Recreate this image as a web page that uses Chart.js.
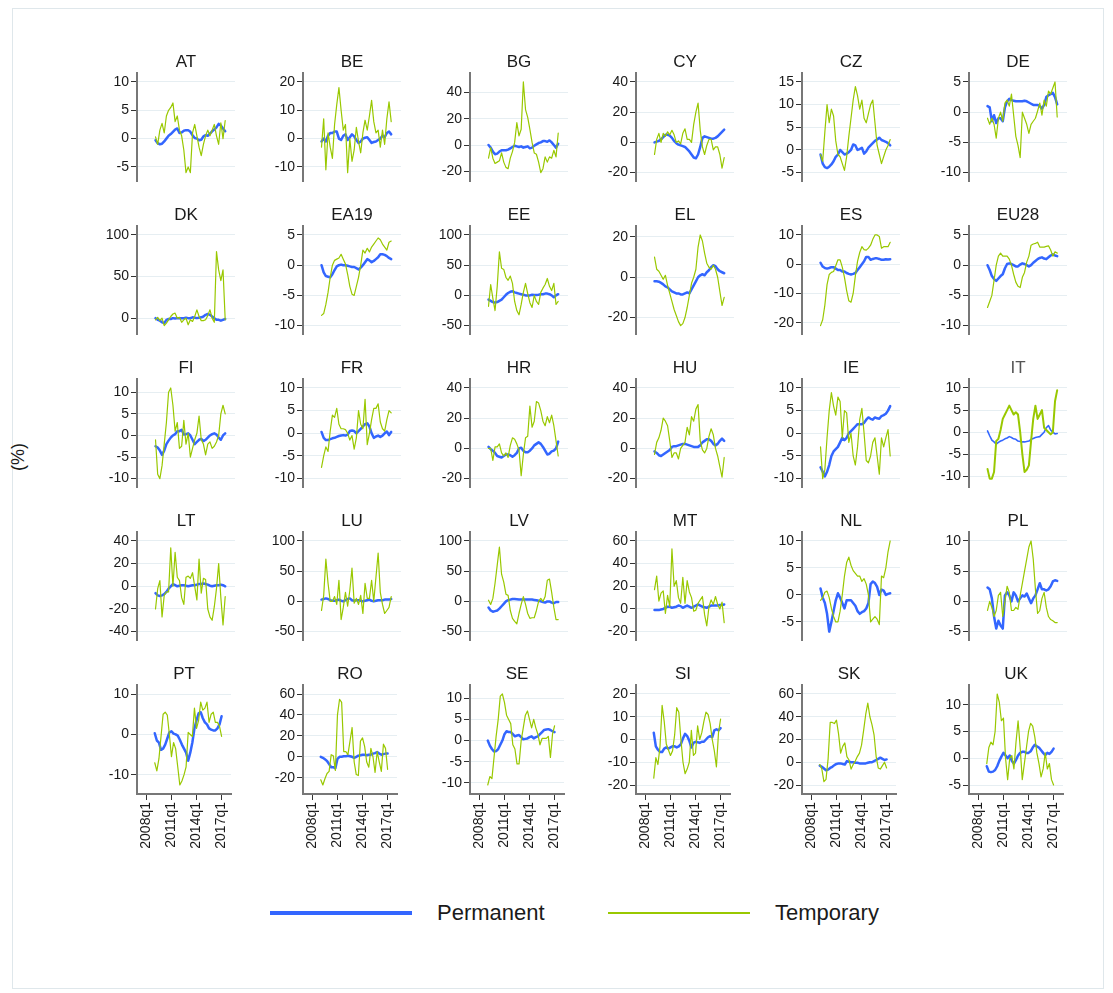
<!DOCTYPE html>
<html>
<head>
<meta charset="utf-8">
<script src="https://cdn.jsdelivr.net/npm/chart.js@4.4.1/dist/chart.umd.min.js"></script>
<style>
html, body { margin:0; padding:0; background:#fff; }
#page { position:relative; width:1113px; height:993px; overflow:hidden; font-family:'Liberation Sans', Arial, sans-serif; color:#1a1a1a; }
#frame { position:absolute; left:12px; top:8px; width:1092px; height:981px; border:1px solid #dfe7eb; box-sizing:border-box; }
#page canvas { position:absolute; }
#ylab { position:absolute; left:18px; top:457px; transform:translate(-50%,-50%) rotate(-90deg); font-size:18px; white-space:nowrap; }
.lg-line { position:absolute; }
.lg-text { position:absolute; font-size:22px; line-height:22px; }
</style>
</head>
<body>
<div id="page">
  <div id="frame"></div>
  <div id="ylab">(%)</div>
  <div class="lg-line" style="left:270px;top:911px;width:142px;height:4px;background:#3366ff"></div>
  <div class="lg-text" style="left:437px;top:902px">Permanent</div>
  <div class="lg-line" style="left:608px;top:912px;width:142px;height:1.5px;background:#99c800"></div>
  <div class="lg-text" style="left:775px;top:902px">Temporary</div>
</div>
<script>
// quarters 2009q1 .. 2017q1
const quarters = ['2009q1','2009q2','2009q3','2009q4','2010q1','2010q2','2010q3','2010q4',
  '2011q1','2011q2','2011q3','2011q4','2012q1','2012q2','2012q3','2012q4',
  '2013q1','2013q2','2013q3','2013q4','2014q1','2014q2','2014q3','2014q4',
  '2015q1','2015q2','2015q3','2015q4','2016q1','2016q2','2016q3','2016q4','2017q1'];
const xTickLabels = ['2008q1','2011q1','2014q1','2017q1'];

// Permanent (blue) / Temporary (green), % change
const permAT = [-0.3,-0.8,-1,-0.9,-0.5,0,0.5,0.8,1.2,1.6,1.8,1,1.1,1.4,1.5,1.5,1.2,0.6,0.1,0,-0.3,-0.2,0.4,0.6,0.5,0.9,1.3,1.6,2.0,2.6,2.3,1.8,1.3];
const tempAT = [0.3,-1,1.5,2.7,1.0,4,5,5.5,6.3,3,4,1.5,0.5,-2,-6,-5,-6,1,2.5,0.5,-1.5,-3,-1,0.5,1.5,0.5,1.5,2.5,0.5,-1,2.8,0,3.2];
const permBE = [-1,0,-1,1,2,2,2.5,2.5,0,-0.5,1,1.5,-0.5,0.5,1.5,0.8,-0.5,-1.5,-1,0,0.3,0.5,-0.5,-1.5,-1.2,-1,-0.5,0,1,0.5,2,2.5,1.5];
const tempBE = [-3,7,-11,2,-3,-7,5,12,18,10,3,5,-12,0,-8,-4,4,-1,-5,2,6.5,3,8,13.5,6,2,3,-3,3,-2,7,13,6];
const permBG = [0,-2,-5,-7,-6.5,-5,-4,-4,-4,-3.5,-2.5,-1.5,-0.5,-1,-1.5,-1,-2,-1.5,-1,-2.5,-2,-0.5,0.5,1.5,2,3,3,2.5,3.5,2,0,-2,1];
const tempBG = [-10,-2,-10,-14,-13,-12,-6,-13,-17,-18,-10,-5,2,17,7,12,48,27,21,12,2,-6,-7,-13,-21,-18,-9,-13,-9,-10,-4,-9,9];
const permCY = [0,0.5,1,2,3.5,5,5,4.5,3,1,-0.5,-1.5,-2,-2.5,-3,-4.5,-6,-8,-10,-10.5,-8,-3,3,4,3.5,3,2.5,2.5,3,4,5.5,7,8.5];
const tempCY = [-8,2,6,0,6,4,7,5,8,5,0,1,-1,6,9,2,2,0,12,20,26,8,-3,-8,-2,2,2,-5,-3,-3,-8,-17,-10];
const permCZ = [-1,-3,-3.8,-4,-3.7,-3.2,-2.5,-1.5,-1,0,-0.5,-1,-0.8,-0.5,0,1.2,1,0,0.2,0.5,-0.8,-0.3,0.5,1,1.5,2,2.3,2.7,2.2,2,1.8,1.5,1];
const tempCZ = [-1,-2.5,4,10,6,9,7.5,2,-1,-1.5,-3,-4.5,-1.5,3,7,11,14,12,9,11,7,6,8,10,11,6,1,-1,-3,-1.5,0,1,2.3];
const permDE = [1,0.8,-1.5,-0.5,-1.8,-1,-1,-1.5,0.8,1.8,2.2,2,1.9,1.8,1.8,1.8,1.8,1.9,1.8,1.6,1.4,1.2,1.2,1.2,1,0.6,1.2,2.5,2.8,3,3.2,2.5,1.3];
const tempDE = [-1,-2,-1,-2,-4.3,-1,0,-1.5,1.5,2,1,3,-0.5,-4,-5.5,-7.5,0,-1,-2,-3.5,-2,-1.5,-1,0.2,1.5,-0.5,2,1,3.5,3,4,5,-0.8];
const permDK = [0,-2,-3,-5,-6,-2,-1,-1,0,-0.5,0,0,0,0,0.5,0,0,1,0.5,0,0.5,1,2,4,5,4,2,0,-2,-2,-3,-2,-1];
const tempDK = [-2,1,-3,0,-9,-6,-2,2,5,6,0,1,-5,-2,0,-8,-2,-4,2,10,2,-3,-3,-2,3,10,0,-5,80,58,45,58,-2];
const permEA19 = [0,-1.2,-1.8,-1.9,-2,-1.5,-0.8,-0.2,0,0.1,0,0,-0.1,-0.2,-0.3,-0.3,-0.5,-0.7,-0.4,0,0.5,1,0.8,0.5,0.7,1,1.3,1.8,1.8,1.7,1.5,1.2,1];
const tempEA19 = [-8.3,-8,-6.5,-4.5,-2,0,0.8,1,1.2,1.8,1,0.2,-1.5,-3.5,-4.8,-5,-3.5,-2,0,2.5,2,2.8,2.2,3,3.5,4,4.5,4.2,3.5,3,2.5,3.8,4];
const permEE = [-7,-9,-11,-12,-11,-9,-7,-3,1,4,6,7,5,4,3,2,1,0,0,0,1,0.5,0.5,1,2,2,3,3,2,0,-3,0,2];
const tempEE = [-18,18,-5,-25,15,72,45,43,30,25,32,20,-10,-25,-32,-15,5,20,3,-12,-20,0,-10,-15,5,12,18,28,15,8,20,-15,-10];
const permEL = [-2,-2,-2.2,-2.8,-3.5,-4.5,-5,-6,-7,-7.5,-8,-8,-8.5,-8.5,-8,-7.5,-8,-6,-4,-2,0,1,1.5,1,2.5,3.5,5,6,5.5,4,3,2.5,2];
const tempEL = [10,4,3,1,-1,1,-4,-8,-12,-16,-19,-22,-24,-23,-20,-15,-9,-3,0,4,15,21,18,12,7,5,4,6,4,0,-7,-14,-10];
const permES = [0.5,-0.8,-1.3,-1.5,-1.3,-1,-1,-1.5,-2,-2,-2.5,-2.5,-3,-3.3,-3.5,-3.3,-3,-2,-1,0,1,2.5,2.5,1.5,1.8,2,2,1.8,1.5,1.5,1.7,1.6,1.7];
const tempES = [-21,-19,-14,-7,-3.5,-2.8,-2.5,-0.5,1.5,1.5,-1,-4.5,-9,-12.5,-13,-10,-4,1,4,6,5,4.8,5.5,6.5,8.5,10,10,9.5,5.5,6,6,6,7.5];
const permEU28 = [0,-0.8,-1.8,-2.3,-2.6,-2.2,-1.8,-1.5,-0.5,0.2,0.3,0.2,0,-0.2,-0.2,0.1,0.3,0.2,0,-0.2,0,0.4,0.7,1,1.2,1.3,1.1,1,1.3,1.6,1.8,1.6,1.5];
const tempEU28 = [-7,-6,-5,-2.5,0,1.5,2,1.5,1.5,1.5,1,0,-1.5,-2.8,-3.5,-3.7,-2,-1.2,0.5,1.5,3.3,3.5,3.6,3.8,3,3,3,3.1,3.2,2.5,1.5,2.2,2];
const permFI = [-2.5,-2.8,-3.5,-4.5,-3.5,-2,-1.2,-0.5,0,0.3,1,1,1.3,0.2,0.3,0.5,0,-1,-2,-1.5,-1,-0.8,-1.3,-1,-0.5,0,0.3,0.5,0.2,-0.5,-1,0,0.5];
const tempFI = [-1,-9,-10,-7,-2,3,10,11,7,1,3,-3,-2.5,3.5,-2,0.5,-5,-3,-1,0.5,4.5,-1,-2,-4.5,-2,-1.5,-3,-2.5,-1.5,0,5,7,5];
const permFR = [0.3,-1,-1.5,-1.5,-1.3,-1.1,-1,-0.8,-0.6,-0.5,-0.4,-0.5,-0.3,0.5,0.6,0.5,0,0.5,1,1.5,2,2.2,1.5,0,-1,-0.7,-0.5,-0.8,-0.5,0,0.4,-0.4,0.3];
const tempFR = [-7.5,-5,-3,-4,0.5,4,3.5,5.5,2,1,1,0.8,0,-1.5,-0.5,-3.5,-1,5,2,1,7.5,-2.5,0,3,5.5,5.5,6.5,2.5,1,0.5,3,5,4.5];
const permHR = [1,-0.5,-1.5,-3,-5,-5.5,-6,-5,-4,-4,-4.5,-5.5,-4.5,-3,0,0.5,-1.5,-2.5,-2.5,-1.5,0,2,3,4,3,1,-1.5,-4,-3.5,-2,-1.5,0,4.5];
const tempHR = [0,0,-8,1,1,3,-3,-5,-3,-6,2,7,6,3,-1,-18,-4,7,8,28,14,18,31,30,25,18,15,21,17,22,15,5,-5];
const permHU = [-2,-3,-4.5,-5,-4,-3,-2,-1,1,1.5,1.5,2,2.5,3,3,2.5,2,1.5,1,1,1,2,4,5,6,6,5,3,2,3,5,6.5,5];
const tempHU = [-4,4,7,12,20,18,15,5,-6,-3,-3,-7,0,2,4,14,9,21,18,26,29,5,-1,-3,0,8,13,9,0,-5,-12,-19,-6];
const permIE = [-7.5,-8.5,-9.5,-8.5,-7,-5,-4,-3.5,-3,-2,-1,-1.5,-1,0,0.5,1,1.5,2,2,2,2.3,3,3.5,3.2,3,3.5,3.3,3.2,3.8,4,4.3,5,6];
const tempIE = [-3,-10,-8,-1,5,9,6,4,8,7,-1,5,4.5,-2,0,-5,-7,-3,3,5.5,0,-6,-6.5,-5,-2,-1,-5,-9,-1,-3,-1,0.8,-5];
const permIT = [0.3,-0.8,-1.8,-2.2,-2.7,-2.3,-2,-1.8,-1.5,-1.3,-1,-1.2,-1.5,-1.6,-2,-2.1,-2.2,-2.2,-2.1,-2,-1.6,-1.4,-1.2,-1.1,-1,-0.5,0,1,1.5,0.5,0,-0.4,-0.3];
const tempIT = [-8.3,-10.5,-10.5,-9,-2,-1.5,0.5,3,4,5,6,5,4,4.5,4,0,-5,-9,-8.5,-7.5,-2,3,6,3,4,5,1,0.5,0,-0.5,0,7,9.5];
const permLT = [-6,-8,-8.5,-8,-7,-5,-2,0,2,1,0,0.5,1,1,0.5,0,0.5,1,1,1.5,2,2,2.5,2,1.5,0.5,0,0.5,1,1,1.5,1,0];
const tempLT = [-20,-2,5,-27,-8,-5,-5,34,0,30,8,5,-10,-16,8,9,7,12,0,-12,24,-6,7,6,-20,-27,-30,-18,-2,20,-10,-34,-9];
const permLU = [3,4,5,4,2,1,1,2,3,1,0,2,4,5,2,1,2,2,1,0,1,2,3,1,0,1,2,2,2,3,3,3,4];
const tempLU = [-15,10,70,30,0,0,8,-5,35,-30,-10,15,-8,18,55,-3,5,-5,10,-20,30,5,5,35,0,40,80,15,-5,-20,-15,-10,8];
const permLV = [-10,-15,-17,-16,-15,-12,-8,-4,0,2,3,4,4,3.5,3,3,3,3,3,3,3,2.5,2,1,0,-1,-2,0,0,-2,-3,-1,-1];
const tempLV = [2,-5,5,30,60,90,45,32,12,10,-15,-28,-33,-37,-20,-5,8,-5,-20,-28,-27,-27,-15,0,5,0,8,35,37,15,-10,-30,-30];
const permMT = [-1,-1,-1,-0.5,0,1,2,2,1,1.5,2,3,2.5,1,2,3,2,1,2,3,4,3,2,1.5,1,2,3,3,3,3,3.5,3.5,4];
const tempMT = [17,29,7,14,16,-4,12,2,53,20,25,10,5,28,5,25,15,10,-2,-1,5,8,11,-5,-15,2,8,4,11,4,0,6,-12];
const permNL = [1.2,-0.5,-1.5,-3.5,-6.8,-5,-3,-1,0.3,-0.5,-1.5,-2.5,-1,-1,-1,-1.5,-2,-3,-3.5,-3.2,-3,-2.5,-1.5,2,2.5,2.2,1.5,0,1,0.8,0,0.2,0.3];
const tempNL = [-1,-0.5,0.5,0.7,-0.5,-2.5,-4,-5,-5,-3,0,3.5,6,7,5.5,4.5,4,3.5,3.5,2.5,3,2,0,-5,-4.5,-4,-4.5,-5.5,3.5,3.2,5,8,10];
const permPL = [2.3,2,0.5,-2.5,-4.5,-3.2,-4,-4.5,1,1.5,1,0,1.5,1,0,0.5,1,0.8,1.3,0.5,-0.3,0.5,1,2,3,2,2,1.8,2,2.5,3.3,3.5,3.4];
const tempPL = [-1.5,0,-1,-2.5,-1.5,1,1.5,-2.5,0,2.5,1.5,-1.5,-1.5,-1,-1.3,1,3,5,7,9,10,7,2,-2,-1.5,0.5,1.5,-1,-2.5,-3,-3.2,-3.5,-3.5];
const permPT = [0.3,-1.5,-2,-3.8,-3.5,-2.5,-1,0.5,0.8,0.2,0,-0.3,-1.3,-2.5,-3.5,-4.5,-6.5,-4.5,-2,1.5,3.5,5.2,5.5,4,3,2.5,1.5,1.2,1,1,1.5,2.5,4.5];
const tempPT = [-7,-9,-6,-0.5,5,5.5,4.8,0,-5.5,-2,-3.5,-8,-12.5,-11.5,-10,-8,0.5,0,-0.5,6.5,1.5,3.5,8,6,6.5,8,3,5,5.5,3,3,2,-0.5];
const permRO = [0,-1,-2.5,-4,-7,-10,-10,-11,-2,0,0,0.5,0.5,1,0.5,0,-1,0,1,1.5,2,2,1.5,2,2,3,3.5,4.5,3,2,2.5,3,3];
const tempRO = [-22,-27,-21,-16,-14,2,1,-13,40,55,52,5,5,2,15,28,-5,-17,-18,15,18,10,-5,-10,8,0,-15,5,-5,-14,12,8,-12];
const permSE = [0,-1.2,-2,-2.6,-2.5,-2,-1,0,1.5,2.2,2,2,1.5,1,1.2,1.3,0.8,0.3,0.4,0.5,0.8,1,0.5,0.8,1,1.5,2,2.5,2.6,2.7,2.5,2.2,2];
const tempSE = [-10.5,-8.5,-9,-4,1,5,10.5,11,9,6,5,4,-1,-2,-5.5,-5.5,0,3,6,7,5,3,5,3,1.5,-1,0.5,0.5,0.5,1,-4,1.5,3.5];
const permSI = [3,-3,-4.5,-5.5,-5.5,-4,-3.5,-4,-3.5,-3,-3,-3.5,-3,-2,0.5,2.5,1.5,-0.5,-3.5,-1.5,-1,-1.2,-1.5,-1,-1,0,1,1.5,1,4,4.5,4,5];
const tempSI = [-17,-8,-11,-3,15,8,-2,-4.5,-7,-5,2,14,12,0,-10,-15,-13,-10,4,-7,-6,6,0,3,8,12,11,7,0,-5,-12,3,9];
const permSK = [-3,-4,-5.5,-7,-6.5,-5,-4,-2.5,-1.5,-1,-1,-1.5,-2,1,0.5,0,0,-0.5,-0.5,-1,-1,-1,-1,-0.5,0,0,1,2,3,4,3,2,2.5];
const tempSK = [-2,-6,-17,-15,3,35,35,34,37,25,8,14,17,5,2,-6,-2,1,5,8,15,28,42,52,40,33,24,5,-5,-6,-3,0,-5];
const permUK = [-1.5,-2.5,-2.6,-2.5,-2.2,-1.5,-0.5,0.3,1,0.5,0,0.5,-0.5,-1,-0.3,0.5,1,1.2,1.2,1,1,1.3,2,2.5,2.2,2,1.5,1,0.6,1,0.8,1.2,1.8];
const tempUK = [-1,2,3,2.5,5,12,10.5,7,7.5,0,-4,0,0.5,-2,3,7,2,-4,-1,2,5,6.5,6,4,1,-1,-3.5,-2,1,-2,-1,-4,-5];

// y tick values per panel
const ticksAT = [-5,0,5,10], ticksBE = [-10,0,10,20], ticksBG = [-20,0,20,40], ticksCY = [-20,0,20,40];
const ticksCZ = [-5,0,5,10,15], ticksDE = [-10,-5,0,5], ticksDK = [0,50,100], ticksEA19 = [-10,-5,0,5];
const ticksEE = [-50,0,50,100], ticksEL = [-20,0,20], ticksES = [-20,-10,0,10], ticksEU28 = [-10,-5,0,5];
const ticksFI = [-10,-5,0,5,10], ticksFR = [-10,-5,0,5,10], ticksHR = [-20,0,20,40], ticksHU = [-20,0,20,40];
const ticksIE = [-10,-5,0,5,10], ticksIT = [-10,-5,0,5,10], ticksLT = [-40,-20,0,20,40], ticksLU = [-50,0,50,100];
const ticksLV = [-50,0,50,100], ticksMT = [-20,0,20,40,60], ticksNL = [-5,0,5,10], ticksPL = [-5,0,5,10];
const ticksPT = [-10,0,10], ticksRO = [-20,0,20,40,60], ticksSE = [-10,-5,0,5,10], ticksSI = [-20,-10,0,10,20];
const ticksSK = [-20,0,20,40,60], ticksUK = [-5,0,5,10];

const panels = [
  ['AT',permAT,tempAT,ticksAT],['BE',permBE,tempBE,ticksBE],['BG',permBG,tempBG,ticksBG],
  ['CY',permCY,tempCY,ticksCY],['CZ',permCZ,tempCZ,ticksCZ],['DE',permDE,tempDE,ticksDE],
  ['DK',permDK,tempDK,ticksDK],['EA19',permEA19,tempEA19,ticksEA19],['EE',permEE,tempEE,ticksEE],
  ['EL',permEL,tempEL,ticksEL],['ES',permES,tempES,ticksES],['EU28',permEU28,tempEU28,ticksEU28],
  ['FI',permFI,tempFI,ticksFI],['FR',permFR,tempFR,ticksFR],['HR',permHR,tempHR,ticksHR],
  ['HU',permHU,tempHU,ticksHU],['IE',permIE,tempIE,ticksIE],['IT',permIT,tempIT,ticksIT],
  ['LT',permLT,tempLT,ticksLT],['LU',permLU,tempLU,ticksLU],['LV',permLV,tempLV,ticksLV],
  ['MT',permMT,tempMT,ticksMT],['NL',permNL,tempNL,ticksNL],['PL',permPL,tempPL,ticksPL],
  ['PT',permPT,tempPT,ticksPT],['RO',permRO,tempRO,ticksRO],['SE',permSE,tempSE,ticksSE],
  ['SI',permSI,tempSI,ticksSI],['SK',permSK,tempSK,ticksSK],['UK',permUK,tempUK,ticksUK],
];

const BLUE = '#3366ff', GREEN = '#99c800';
const FONT = "'Liberation Sans', Arial, sans-serif";

function qIndex(lbl){ return (Number(lbl.slice(0,4)) - 2008) * 4 + Number(lbl.slice(5)) - 1; }
function pts(arr){ return arr.map((v,k)=>({ x: qIndex(quarters[k]), y: v })); }

const titlePlugin = {
  id: 'paneltitle',
  afterDraw(chart, args, opts){
    const { ctx, chartArea: a } = chart;
    ctx.save();
    ctx.font = '17px ' + FONT;
    ctx.fillStyle = opts.color || '#1a1a1a';
    ctx.textAlign = 'center'; ctx.textBaseline = 'middle';
    ctx.fillText(opts.text, (a.left + a.right) / 2, a.top - 10.5);
    ctx.restore();
  }
};

const page = document.getElementById('page');
const PLOT_W = 98, PLOT_H = 109, YW = 50, TOP = 30, XH = 62;

panels.forEach(([name, perm, temp, ticks], i) => {
  const col = i % 6, row = Math.floor(i / 6);
  const bottom = row === 4;
  const axisX = 137 + 166.3 * col, axisTop = 73 + 153 * row;
  const cv = document.createElement('canvas');
  cv.width = YW + PLOT_W + 6;
  cv.height = TOP + PLOT_H + (bottom ? XH : 10);
  cv.style.left = (axisX - YW) + 'px';
  cv.style.top = (axisTop - TOP) + 'px';
  page.appendChild(cv);

  const all = perm.concat(temp, ticks);
  const lo = Math.min(...all), hi = Math.max(...all);
  const pad = (hi - lo) * 9 / (PLOT_H - 18);
  const isIT = name === 'IT';

  new Chart(cv, {
    type: 'line',
    data: { datasets: [
      { label: 'Temporary', data: pts(temp), borderColor: GREEN, borderWidth: isIT ? 2 : 1.2 },
      { label: 'Permanent', data: pts(perm), borderColor: BLUE, borderWidth: isIT ? 1.6 : 2.5 },
    ]},
    options: {
      responsive: false, animation: false, events: [],
      layout: { padding: { top: TOP, right: 6, left: 0, bottom: bottom ? 0 : 10 } },
      elements: { point: { radius: 0 }, line: { tension: 0, fill: false, borderJoinStyle: 'round', borderCapStyle: 'round' } },
      plugins: { legend: { display: false }, tooltip: { enabled: false }, paneltitle: { text: name, color: isIT ? '#555' : '#1a1a1a' } },
      scales: {
        x: {
          type: 'linear', min: -4.5, max: 40.5, display: bottom,
          afterBuildTicks: s => { s.ticks = xTickLabels.map(l => ({ value: qIndex(l) })); },
          afterFit: s => { s.height = bottom ? XH : 0; },
          ticks: { autoSkip: false, minRotation: 90, maxRotation: 90, padding: 2, color: '#1a1a1a',
                   font: { family: FONT, size: 14 },
                   callback: v => xTickLabels.find(l => qIndex(l) === v) || '' },
          grid: { display: true, drawOnChartArea: false, drawTicks: true, tickLength: 6, tickColor: '#333' },
          border: { display: true, color: '#777', width: 2 }
        },
        y: {
          min: lo - pad, max: hi + pad,
          afterBuildTicks: s => { s.ticks = ticks.map(v => ({ value: v })); },
          afterFit: s => { s.width = YW; },
          ticks: { autoSkip: false, padding: 2, color: '#1a1a1a', font: { family: FONT, size: 14 } },
          grid: { color: '#e6eef2', lineWidth: 1, drawTicks: true, tickLength: 6, tickColor: '#333' },
          border: { display: true, color: '#777', width: 2 }
        }
      }
    },
    plugins: [titlePlugin]
  });
});
</script>
</body>
</html>
